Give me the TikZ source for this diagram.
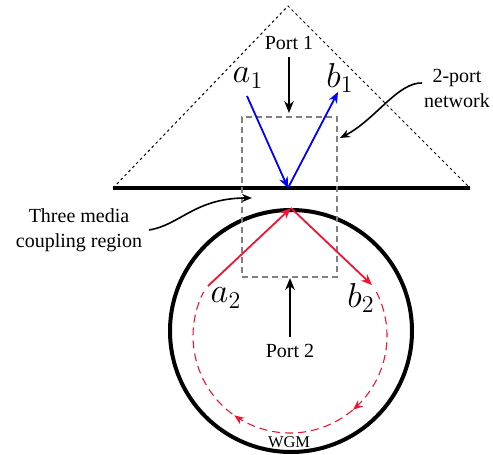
\documentclass[tikz,border=0pt]{standalone}
\usepackage{fontspec}
\setmainfont{Liberation Serif}
\usetikzlibrary{arrows.meta,decorations.markings}
\definecolor{myred}{RGB}{240,20,50}
\definecolor{mygray}{RGB}{128,128,128}
\begin{document}
\begin{tikzpicture}[x=0.5pt,y=-0.5pt,
  tip/.style={-{Stealth[length=5.5pt,width=4.5pt]}},
  tri/.style={line width=0.5pt,dash pattern=on 1.3pt off 1.5pt},
  surface/.style={line width=2pt},
  netbox/.style={draw=mygray,line width=0.6pt,dash pattern=on 3pt off 2pt,minimum width=47.5pt,minimum height=80pt,inner sep=0pt},
  resonator/.style={draw,circle,line width=2pt,minimum size=121pt,inner sep=0pt},
  bluearr/.style={tip,draw=blue,fill=blue,line width=0.9pt},
  redarr/.style={tip,draw=myred,fill=myred,line width=0.9pt},
  portarr/.style={-{Stealth[length=6pt,width=4.8pt]},line width=0.9pt},
  notearr/.style={-{Stealth[length=5pt,width=4pt]},line width=0.8pt},
  wgmflow/.style={draw=myred,line width=0.55pt,dash pattern=on 4pt off 2.5pt,
    postaction={decorate,decoration={markings,
      mark=at position 0.327 with {\arrow[myred,line width=0.55pt]{Stealth[length=5pt,width=4pt]}},
      mark=at position 0.65 with {\arrow[myred,line width=0.55pt]{Stealth[length=5pt,width=4pt]}}}}},
  lbl/.style={font=\fontsize{10}{12.5}\selectfont,align=center},
  mathlbl/.style={font=\LARGE}
]
\useasboundingbox (0,0) rectangle (493,455);
% dotted triangle and interface
\coordinate (apexT) at (288,6);
\coordinate (baseL) at (113,188);
\coordinate (baseR) at (470,188);
\draw[tri] (baseL) -- (apexT) -- (baseR);
\draw[surface] (baseL) -- (baseR);
% resonator
\node[resonator] (res) at (291,331) {};
% network box
\node[netbox] (net) at (289.5,197) {};
% blue waves
\coordinate (a1s) at (247,96);
\coordinate (hit1) at (288,188);
\coordinate (b1e) at (338,92);
\draw[bluearr] (a1s) -- (hit1);
\draw[bluearr] (hit1) -- (b1e);
% red waves
\coordinate (a2s) at (208,286);
\coordinate (b2e) at (372,285);
\draw[redarr] (a2s) -- (res.north);
\draw[redarr] (res.north) -- (b2e);
% WGM flow
\coordinate (wgmc) at (290,336);
\draw[wgmflow] (wgmc) ++(-27:97) arc[start angle=-27,end angle=207,radius=97];
% labels
\node[mathlbl] (la1) at (248,78) {$a_1$};
\node[mathlbl] (lb1) at (340,78) {$b_1$};
\node[mathlbl] (la2) at (226,298) {$a_2$};
\node[mathlbl] (lb2) at (361,298) {$b_2$};
% ports
\node[lbl] (p1) at (289,43) {Port 1};
\coordinate (p1tip) at (289,113);
\draw[portarr] (p1) -- (p1tip);
\node[lbl] (p2) at (290,351) {Port 2};
\coordinate (p2tip) at (290,278);
\draw[portarr] (p2) -- (p2tip);
\node[font=\fontsize{8.2}{10}\selectfont] (wgm) at (289,442) {WGM};
% annotations
\node[lbl] (netlbl) at (457,88) {2-port\\network};
\coordinate (netE) at (340,138);
\draw[notearr] ([shift={(5,-5)}]netlbl.west) .. controls (398,82) and (375,120) .. (netE);
\node[lbl] (tm) at (79,230) {Three media\\coupling region};
\coordinate (cpl) at (252,198);
\draw[notearr] (tm.east) .. controls (180,225) and (195,198) .. (cpl);
\end{tikzpicture}
\end{document}
